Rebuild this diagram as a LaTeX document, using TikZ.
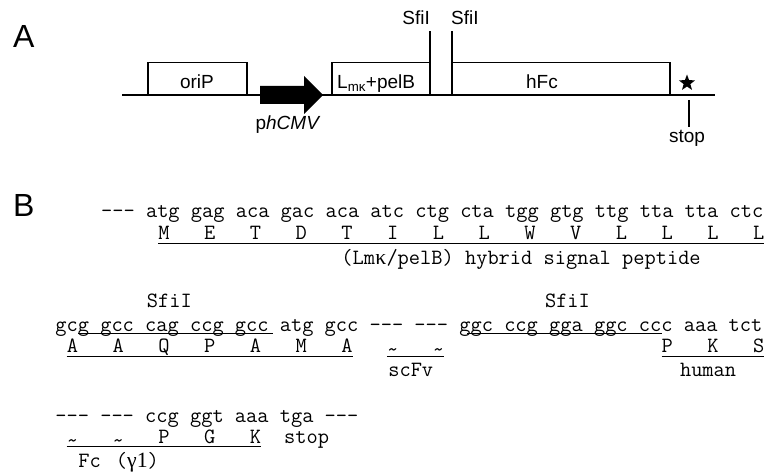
\documentclass[tikz,border=0pt]{standalone}
\usepackage{fontspec}
\setmainfont{Liberation Sans}
\setmonofont{Latin Modern Mono}
\newfontfamily\grk{Liberation Serif}
\usetikzlibrary{shapes.geometric}
\newcommand\colx[1]{(55.2+(#1)*11.44)}
\newcommand\tld{\raisebox{-4pt}{\textasciitilde}}
\begin{document}
\begin{tikzpicture}[x=1pt,y=-1pt,
  dna/.style={line width=1.8pt},
  lbl/.style={font=\fontsize{19}{22}\selectfont, inner sep=0pt},
  big/.style={font=\fontsize{32}{36}\selectfont, inner sep=0pt, anchor=base west},
  seq/.style={font=\ttfamily\fontsize{21.79}{24}\selectfont, inner sep=0pt, anchor=base west},
  aa/.style={seq, anchor=base},
  ul/.style={line width=1.6pt}]
\useasboundingbox (0,0) rectangle (772,473);
% ---------------- Part A
\node[big] (labA) at (13,48) {A};
\coordinate (bbL) at (122,95);
\coordinate (bbR) at (715,95);
\draw[dna] (bbL) -- (bbR);
\draw[dna] (148,95) |- (247,62.5) -- (247,95);
\draw[dna] (332,95) |- (430,62.5);
\draw[dna] (430,31.5) -- (430,95);
\draw[dna] (452,31.5) -- (452,95);
\draw[dna] (452,62.5) -| (670,95);
\fill (260,86) -- (304,86) -- (304,76) -- (323,95) -- (304,114) -- (304,104) -- (260,104) -- cycle;
\node[lbl, anchor=base] (oriP) at (197,88.5) {oriP};
\node[lbl, anchor=base west] (lm) at (337,88.5) {L\textsubscript{mκ}+pelB};
\node[lbl, anchor=base] (hfc) at (542,89) {hFc};
\node[lbl, anchor=base east] (sfiA) at (430,25) {SfiI};
\node[lbl, anchor=base west] (sfiB) at (451,25) {SfiI};
\node[lbl, anchor=base] (cmv) at (288,130) {p\textit{hCMV}};
\node[star, star points=5, star point ratio=2.4, fill, minimum size=17pt, inner sep=0pt] (star) at (687,83) {};
\coordinate (stT) at (689,100);
\coordinate (stB) at (689,127);
\draw[dna] (stT) -- (stB);
\node[lbl, anchor=base] (stop) at (687,142.5) {stop};
% ---------------- Part B
\node[big] (labB) at (13,217) {B};
% row 1
\node[seq] (r1) at ({\colx{4}},218) {--- atg gag aca gac aca atc ctg cta tgg gtg ttg tta tta ctc};
\foreach \c/\t [count=\i] in {9/M,13/E,17/T,21/D,25/T,29/I,33/L,37/L,41/W,45/V,49/L,53/L,57/L,61/L}
  \node[aa] (p1-\i) at ({\colx{\c+0.5}},240) {\t};
\draw[ul] ({\colx{9}},243.5) -- ({\colx{62}},243.5);
\node[seq] (lab1) at ({\colx{25}},265) {(Lm\makebox[11.44pt]{\grk κ}/pelB) hybrid signal peptide};
% row 2
\node[seq] (sfi1) at ({\colx{8}},308) {SfiI};
\node[seq] (sfi2) at ({\colx{42.8}},308) {SfiI};
\node[seq] (r2) at ({\colx{0}},332) {gcg gcc cag ccg gcc atg gcc --- --- ggc ccg gga ggc ccc aaa tct};
\draw[ul] ({\colx{2}},333.5) -- ({\colx{19}},333.5);
\draw[ul] ({\colx{36}},333.5) -- ({\colx{53}},333.5);
\foreach \c/\t [count=\i] in {1/A,5/A,9/Q,13/P,17/A,21/M,25/A,29/\tld,33/\tld,53/P,57/K,61/S}
  \node[aa] (p2-\i) at ({\colx{\c+0.5}},353) {\t};
\draw[ul] ({\colx{1}},356.5) -- ({\colx{26}},356.5);
\draw[ul] ({\colx{29}},356.5) -- ({\colx{34}},356.5);
\draw[ul] ({\colx{53}},356.5) -- ({\colx{62}},356.5);
\node[seq] (scfv) at ({\colx{29.1}},377) {scFv};
\node[seq] (human) at ({\colx{54.6}},377) {human};
% row 3
\node[seq] (r3) at ({\colx{0}},422) {--- --- ccg ggt aaa tga ---};
\foreach \c/\t [count=\i] in {1/\tld,5/\tld,9/P,13/G,17/K}
  \node[aa] (p3-\i) at ({\colx{\c+0.5}},443) {\t};
\node[seq] (stp) at ({\colx{20}},443) {stop};
\draw[ul] ({\colx{1}},446.5) -- ({\colx{18}},446.5);
\node[seq] (fc) at ({\colx{2}},467) {Fc\hspace{4pt} ({\grk γ1})};
\end{tikzpicture}
\end{document}
